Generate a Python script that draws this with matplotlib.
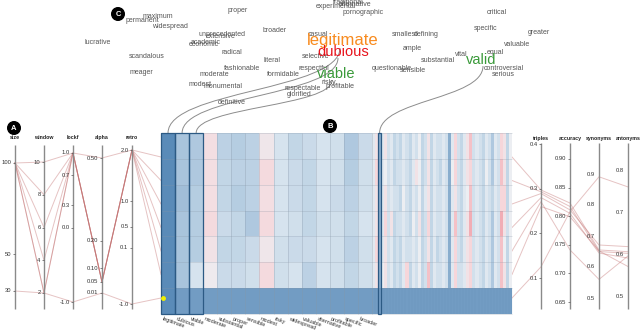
import matplotlib
matplotlib.use("Agg")
import matplotlib.pyplot as plt
from matplotlib.colors import LinearSegmentedColormap
from matplotlib.path import Path
from matplotlib.patches import PathPatch, Circle, Rectangle
import numpy as np

plt.rcParams['font.family'] = ['Liberation Sans', 'DejaVu Sans']

# ---- data: 7 parameter settings (rows of the heatmap) ----
sizes = [100, 100, 100, 100, 100, 100, 30]
windows = [10, 8, 6, 4, 2, 2, 2]
lockf = [1.0, 1.0, 1.0, 1.0, 1.0, 1.0, -1.0]
alphas = [0.50, 0.05, 0.05, 0.05, 0.05, 0.05, 0.01]
retro = [2.0, 2.0, 2.0, 2.0, 2.0, 2.0, -1.0]

triples = [0.297, 0.293, 0.289, 0.280, 0.271, 0.260, 0.125]
accuracy = [0.823, 0.817, 0.811, 0.805, 0.741, 0.799, 0.808]
synonyms = [0.655, 0.650, 0.671, 0.645, 0.560, 0.652, 0.891]
antonyms = [0.607, 0.603, 0.619, 0.592, 0.597, 0.572, 0.760]

# heatmap columns (named words)
col_words = ['legitimate', 'dubious', 'viable', 'moderate', 'substantial', 'proper',
             'sensible', 'modest', 'risky', 'widespread', 'valuable', 'alternative',
             'profitable', 'specific', 'broader']
wide_vals = [
    [-1.0, -0.50, -0.45, 0.20, -0.35, -0.40, -0.35, 0.10, -0.15, -0.30, -0.25, -0.15, -0.20, -0.45, -0.25],
    [-1.0, -0.50, -0.45, 0.20, -0.30, -0.35, -0.35, 0.25, -0.15, -0.25, -0.30, -0.15, -0.20, -0.40, -0.20],
    [-1.0, -0.55, -0.40, 0.20, -0.30, -0.40, -0.35, 0.20, -0.15, -0.25, -0.30, -0.15, -0.25, -0.35, -0.20],
    [-1.0, -0.50, -0.40, 0.25, -0.25, -0.30, -0.45, 0.25, -0.15, -0.20, -0.30, -0.20, -0.20, -0.30, -0.15],
    [-1.0, -0.50, -0.40, 0.15, -0.30, -0.30, -0.25, 0.10, -0.20, -0.25, -0.25, -0.15, -0.20, -0.35, -0.20],
    [-1.0, -0.50, -0.15, 0.05, -0.25, -0.25, -0.20, 0.25, -0.20, -0.15, -0.35, -0.15, -0.20, -0.30, -0.20],
]
# remaining (narrow) columns, coded by level
code_map = {'A': -1.0, 'B': -0.7, 'C': -0.45, 'D': -0.3, 'E': -0.18, 'F': -0.08,
            'G': 0.0, 'H': 0.15, 'I': 0.3, 'J': 0.5, 'K': 0.7}
narrow_rows = [
    "FHBFHEFDED" "FEDFEGDEHD" "FEEFEBFIED" "FHJEFEDFEC" "FEIHDG",
    "FIBFGEFDEE" "FEDFHGDEHD" "FEDFEBGIED" "FHIEFEDGEC" "FEJHDG",
    "FHBFHEFEED" "GEDFEGDFHD" "FEEFEBFHED" "FGJEFEDFED" "FEIIDG",
    "FHBFIEHDEE" "FEDGEHDEID" "FEEFEBFJED" "FHKEFEDFEC" "FEKHEG",
    "FIBFHEFDED" "FEEFEGDEHD" "FDEFEBFIED" "FHIEFEDFEC" "FEJGDG",
    "FHBGHEFDED" "FIDFEGDEJD" "FEEFEBFIEE" "FHIEFEDFEC" "FEJHDG",
]
bottom_val = -0.85

# word cloud
cloud_words = ['permanent', 'maximum', 'widespread', 'lucrative', 'scandalous', 'meager',
               'proper', 'unprecedented', 'extensive', 'academic', 'economic', 'radical',
               'broader', 'literal', 'fashionable', 'moderate', 'formidable', 'modest',
               'monumental', 'respectful', 'respectable', 'glorified', 'definitive',
               'casual', 'selective', 'risky', 'profitable', 'traditional', 'alternative',
               'experimental', 'pornographic', 'smallest', 'defining', 'ample',
               'substantial', 'vital', 'questionable', 'sensible', 'critical', 'specific',
               'greater', 'valuable', 'equal', 'controversial', 'serious']
big_words = ['legitimate', 'dubious', 'viable', 'valid']

# ---- layout ----
cloud_pos = [(142, 21), (158, 17), (170, 26), (98, 43), (147, 57), (141, 73),
             (238, 11), (222, 35), (221, 37), (206, 42), (204, 44), (232, 52),
             (275, 30), (272, 60), (242, 69), (214, 74), (283, 74), (200, 85),
             (223, 87), (314, 68), (303, 88), (299, 95), (232, 103),
             (318, 34), (316, 57), (329, 83), (340, 87), (348, 3), (355, 5),
             (336, 7), (363, 13), (405, 34), (426, 35), (412, 49),
             (438, 60), (461, 55), (392, 68), (413, 71), (497, 12), (486, 28),
             (539, 33), (517, 44), (495, 52), (504, 69), (503, 74)]
big_pos = [(343, 41), (343, 52), (336, 74), (481, 60)]
big_size = [12, 10.5, 10.5, 10.5]
big_color = ['#f88b1f', '#e8131c', '#3a9a3a', '#3a9a3a']
link_end = [(340, 48), (338, 58), (332, 80), (483, 66)]

HX0, HX1, HY0, HY1 = 161, 512, 133, 314
WIDE_END = 372
row_end = [157 + 23.5 * i for i in range(7)]

# each axis: x position, two anchor ticks (value, pixel y), tick labels
left_axes = [
    ('size', 15, sizes, (30, 291), (100, 163), [100, 50, 30], ['100', '50', '30']),
    ('window', 44, windows, (2, 293), (10, 162), [10, 8, 6, 4, 2], ['10', '8', '6', '4', '2']),
    ('lockf', 73, lockf, (-1, 302), (1, 153), [1, 0.7, 0.3, 0, -1], ['1.0', '0.7', '0.3', '0.0', '-1.0']),
    ('alpha', 102, alphas, (0.01, 293), (0.5, 158), [0.5, 0.2, 0.1, 0.05, 0.01], ['0.50', '0.20', '0.10', '0.05', '0.01']),
    ('retro', 132, retro, (-1, 304), (2, 150), [2, 1, 0.5, 0.1, -1], ['2.0', '1.0', '0.5', '0.1', '-1.0']),
]
right_axes = [
    ('triples', 541, triples, (0.1, 278), (0.4, 144), [0.4, 0.3, 0.2, 0.1], ['0.4', '0.3', '0.2', '0.1'], True),
    ('accuracy', 570, accuracy, (0.65, 302), (0.90, 159), [0.90, 0.85, 0.80, 0.75, 0.70, 0.65],
     ['0.90', '0.85', '0.80', '0.75', '0.70', '0.65'], True),
    ('synonyms', 599, synonyms, (0.5, 298), (0.9, 174), [0.9, 0.8, 0.7, 0.6, 0.5], ['0.9', '0.8', '0.7', '0.6', '0.5'], False),
    ('antonyms', 628, antonyms, (0.5, 297), (0.8, 170), [0.8, 0.7, 0.6, 0.5], ['0.8', '0.7', '0.6', '0.5'], False),
]


def scale(v, a, b):
    v = np.asarray(v, dtype=float)
    return a[1] + (v - a[0]) * (b[1] - a[1]) / (b[0] - a[0])


fig = plt.figure(figsize=(6.4, 3.3), dpi=100)
ax = fig.add_axes([0, 0, 1, 1])
ax.set_xlim(0, 640)
ax.set_ylim(330, 0)
ax.axis('off')

# ---- heatmap ----
cmap = LinearSegmentedColormap.from_list('rb', [
    (0.0, '#5a8bb8'), (0.25, '#a9c4dc'), (0.425, '#d6e3ee'),
    (0.5, '#eceef2'), (0.65, '#f6d6da'), (1.0, '#ee8e9a')])
n_wide = len(col_words)
n_narrow = len(narrow_rows[0])
M = []
for r in range(6):
    M.append(list(wide_vals[r]) + [code_map[c] for c in narrow_rows[r]])
M.append([-1.0] + [bottom_val] * (n_wide + n_narrow - 1))
M = np.array(M)
xedges = np.concatenate([np.linspace(HX0, WIDE_END, n_wide + 1),
                         np.linspace(WIDE_END, HX1, n_narrow + 1)[1:]])
yedges = np.linspace(HY0, HY1, 8)
ax.pcolormesh(xedges, yedges, M, cmap=cmap, vmin=-1, vmax=1, zorder=2)
ax.vlines(xedges[:n_wide + 1], HY0, HY1, color='#8796a6', lw=0.45, alpha=0.5, zorder=3)
ax.hlines(yedges, HX0, HX1, color='#8796a6', lw=0.45, alpha=0.4, zorder=3)
ax.vlines(xedges[n_wide + 1:], yedges[-2], HY1, color='#5a7fa6', lw=0.3, alpha=0.25, zorder=3)
for i in [0, 1, 2, n_wide + 2]:
    ax.add_patch(Rectangle((xedges[i], HY0), xedges[i + 1] - xedges[i], HY1 - HY0,
                           fill=False, ec='#2c5a84', lw=0.9, zorder=4))
for i, w in enumerate(col_words):
    ax.text(xedges[i] + 2, HY1 + 2, w, rotation=-20, rotation_mode='anchor',
            ha='left', va='top', fontsize=4.0, color='#333333', zorder=5)

# ---- left parallel coordinates ----
for k in range(len(sizes)):
    xs = [a[1] for a in left_axes] + [HX0]
    ys = [float(scale(a[2][k], a[3], a[4])) for a in left_axes] + [row_end[k]]
    ax.plot(xs, ys, color='#c06a6a', alpha=0.4, lw=0.7, zorder=1)
for name, x, _, a, b, tv, tl in left_axes:
    ax.vlines(x, 145, 309, color='#8a8a8a', lw=1.0, zorder=2)
    ax.text(x, 140, name, ha='center', va='bottom', fontsize=3.8, color='#222222', fontweight='bold')
    for v, lab in zip(tv, tl):
        y = float(scale(v, a, b))
        ax.hlines(y, x - 2.5, x, color='#555555', lw=0.5, zorder=2)
        ax.text(x - 3.5, y, lab, ha='right', va='center', fontsize=4.2, color='#333333')
ax.plot(HX0 + 2, row_end[-1], 'o', ms=2.5, color='#f0f000', zorder=6)

# ---- right parallel coordinates ----
for k in range(len(triples)):
    xs = [HX1] + [a[1] for a in right_axes]
    ys = [row_end[k]] + [float(scale(a[2][k], a[3], a[4])) for a in right_axes]
    ax.plot(xs, ys, color='#c06a6a', alpha=0.4, lw=0.7, zorder=1)
for name, x, _, a, b, tv, tl, ticks in right_axes:
    ax.vlines(x, 143, 309, color='#8a8a8a', lw=1.0, zorder=2)
    ax.text(x, 141, name, ha='center', va='bottom', fontsize=3.8, color='#222222', fontweight='bold')
    for v, lab in zip(tv, tl):
        y = float(scale(v, a, b))
        if ticks:
            ax.hlines(y, x - 2.5, x, color='#555555', lw=0.5, zorder=2)
            ax.text(x - 3.5, y, lab, ha='right', va='center', fontsize=4.2, color='#333333')
        else:
            ax.text(x - 4.5, y, lab, ha='right', va='center', fontsize=4.2, color='#333333')

# ---- word cloud + links ----
for w, (x, y) in zip(cloud_words, cloud_pos):
    ax.text(x, y, w, ha='center', va='center', fontsize=5, color='#555555', zorder=5)
for w, (x, y), s, c in zip(big_words, big_pos, big_size, big_color):
    ax.text(x, y, w, ha='center', va='center', fontsize=s, color=c, zorder=6)
link_cols = [0, 1, 2, n_wide + 2]
for ci, (ex, ey) in zip(link_cols, link_end):
    x0 = (xedges[ci] + xedges[ci + 1]) / 2
    ym = (HY0 + ey) / 2
    p = Path([(x0, HY0), (x0, ym), (ex, ym), (ex, ey)],
             [Path.MOVETO, Path.CURVE4, Path.CURVE4, Path.CURVE4])
    ax.add_patch(PathPatch(p, fill=False, ec='#8c8c8c', lw=0.7, zorder=3))

# ---- panel badges ----
for lab, (x, y) in zip(['A', 'B', 'C'], [(14, 128), (330, 126), (118, 14)]):
    ax.add_patch(Circle((x, y), 6.3, color='black', zorder=7))
    ax.text(x, y + 0.3, lab, ha='center', va='center', fontsize=5.5, color='white',
            fontweight='bold', zorder=8)

fig.savefig('out.png', dpi=100)
